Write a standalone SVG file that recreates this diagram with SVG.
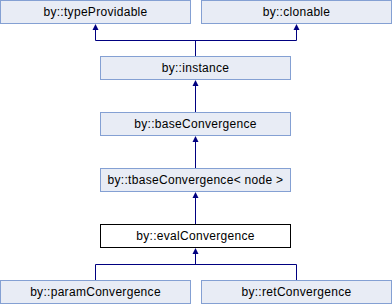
<svg xmlns="http://www.w3.org/2000/svg" width="392" height="304" viewBox="0 0 392 304">
<style>
.n{fill:#E8ECF5;stroke:#84A0D3;stroke-width:1}
.c{fill:#FFFFFF;stroke:#000000;stroke-width:1}
text{font-family:"Liberation Sans",Arial,sans-serif;font-size:12px;letter-spacing:0.3px;text-anchor:middle;fill:#000000}
.e{fill:none;stroke:#000080;stroke-width:1}
.a{fill:#000080;stroke:none}
</style>
<rect width="392" height="304" fill="#FFFFFF"/>
<g id="edges">
<path class="e" d="M95.5 29V40.5H296.5V29M195.5 40.5V56"/>
<polygon class="a" points="95.5,24 92.5,30 98.5,30"/>
<polygon class="a" points="296.5,24 293.5,30 299.5,30"/>
<path class="e" d="M195.5 85V112"/>
<polygon class="a" points="195.5,80 192.5,86 198.5,86"/>
<path class="e" d="M195.5 141V168"/>
<polygon class="a" points="195.5,136 192.5,142 198.5,142"/>
<path class="e" d="M195.5 197V224"/>
<polygon class="a" points="195.5,192 192.5,198 198.5,198"/>
<path class="e" d="M195.5 253V264.5M95.5 280V264.5H296.5V280"/>
<polygon class="a" points="195.5,248 192.5,254 198.5,254"/>
</g>
<g id="typeProvidable"><rect class="n" x="0.5" y="0.5" width="190" height="23"/><text x="95.5" y="15.5">by::typeProvidable</text></g>
<g id="clonable"><rect class="n" x="201.5" y="0.5" width="190" height="23"/><text x="296.5" y="15.5">by::clonable</text></g>
<g id="instance"><rect class="n" x="100.5" y="56.5" width="190" height="23"/><text x="195.5" y="71.5">by::instance</text></g>
<g id="baseConvergence"><rect class="n" x="100.5" y="112.5" width="190" height="23"/><text x="195.5" y="127.5">by::baseConvergence</text></g>
<g id="tbaseConvergence"><rect class="n" x="100.5" y="168.5" width="190" height="23"/><text x="195.5" y="183.5">by::tbaseConvergence&lt; node &gt;</text></g>
<g id="evalConvergence"><rect class="c" x="100.5" y="224.5" width="190" height="23"/><text x="195.5" y="239.5">by::evalConvergence</text></g>
<g id="paramConvergence"><rect class="n" x="0.5" y="280.5" width="190" height="23"/><text x="95.5" y="295.5">by::paramConvergence</text></g>
<g id="retConvergence"><rect class="n" x="201.5" y="280.5" width="190" height="23"/><text x="296.5" y="295.5">by::retConvergence</text></g>
</svg>
